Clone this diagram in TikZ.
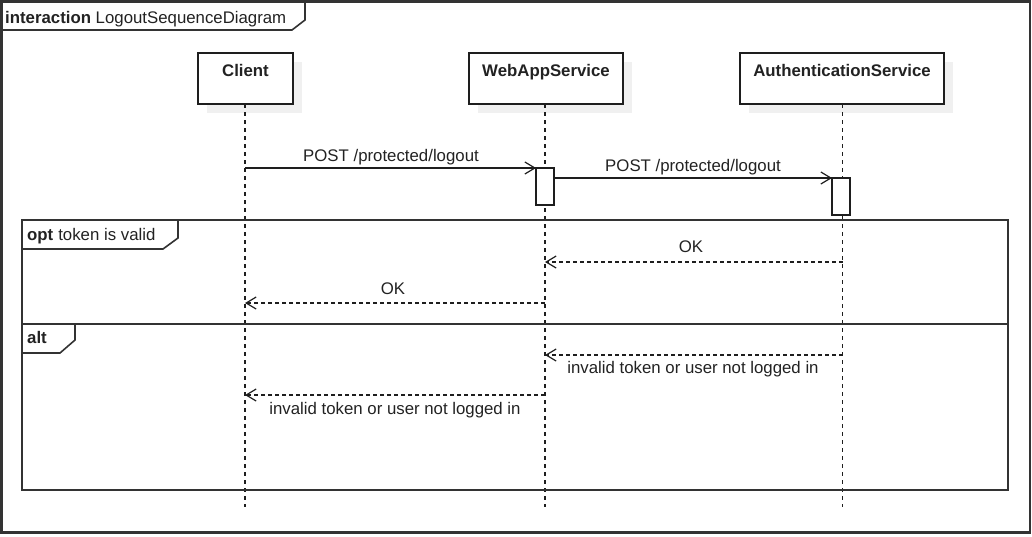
\documentclass[tikz,border=0pt]{standalone}
\usepackage{fontspec}
\setmainfont{Liberation Sans}
\usetikzlibrary{arrows.meta}
\definecolor{ln}{HTML}{1E1E1E}
\definecolor{fr}{HTML}{333333}
\definecolor{tx}{HTML}{222222}
\definecolor{shd}{HTML}{F0F0F0}
\begin{document}
\begin{tikzpicture}[x=1pt,y=-1pt,
  every node/.style={font=\fontsize{16.8}{20}\selectfont, text=tx, inner sep=0pt},
  headbox/.style={draw=ln, line width=1.4pt, fill=white, minimum height=51pt, outer sep=0pt},
  shadowbox/.style={fill=shd, minimum height=51pt, outer sep=0pt, inner sep=0pt},
  actbox/.style={draw=ln, line width=1.3pt, fill=white, minimum width=18pt, minimum height=37pt, outer sep=0pt},
  lifeline/.style={draw=ln, line width=1.2pt, dash pattern=on 4pt off 4pt},
  syncmsg/.style={draw=ln, line width=1.2pt, -{Straight Barb[length=10pt,width=12pt,line width=1.2pt]}},
  replymsg/.style={draw=ln, line width=1.2pt, dash pattern=on 4pt off 3pt, -{Straight Barb[length=10pt,width=12pt,line width=1.2pt]}},
  framebox/.style={draw=fr, line width=1.6pt},
  lbl/.style={anchor=base}
]
\useasboundingbox (0,0) rectangle (1032,536);
% outer frame
\draw[framebox, line width=2.2pt, draw=fr] (1.5,1.5) rectangle (1030,532.5);
\draw[framebox] (1.5,30) -- (292,30) -- (305,20) -- (305,1.5);
\node[anchor=base west] (title) at (5,23) {\textbf{interaction} LogoutSequenceDiagram};

% lifeline heads with shadows
\node[shadowbox, minimum width=95pt] (clientS) at (254.5,87.5) {};
\node[shadowbox, minimum width=154pt] (webS) at (555,87.5) {};
\node[shadowbox, minimum width=204pt] (authS) at (851,87.5) {};
\node[headbox, minimum width=95pt] (client) at (245.5,78.5) {};
\node[headbox, minimum width=154pt] (web) at (546,78.5) {};
\node[headbox, minimum width=204pt] (auth) at (842,78.5) {};
\node[lbl] (clientT) at (245.5,76.5) {\textbf{Client}};
\node[lbl] (webT) at (546,76.5) {\textbf{WebAppService}};
\node[lbl] (authT) at (842,76.5) {\textbf{AuthenticationService}};

% lifeline ends
\coordinate (clientE) at (245,507);
\coordinate (webE) at (545,507);
\coordinate (authE) at (842.5,507);
\draw[lifeline] (client.south -| clientE) -- (clientE);
\draw[lifeline] (web.south -| webE) -- (webE);
\draw[lifeline] (auth.south -| authE) -- (authE);

% activations
\node[actbox] (webAct) at (545,186.5) {};
\node[actbox] (authAct) at (841,196.5) {};

% frames
\draw[framebox] (22,220) rectangle (1008,490);
\draw[framebox] (22,324) -- (1008,324);
\draw[framebox] (22,249) -- (163,249) -- (178,238) -- (178,220);
\draw[framebox] (22,353) -- (60,353) -- (75,340) -- (75,324);
\node[anchor=base west] (optT) at (27,240) {\textbf{opt}\hspace{5pt}token is valid};
\node[anchor=base west] (altT) at (27,343) {\textbf{alt}};

% messages
\coordinate (m1s) at (245,168);
\draw[syncmsg] (m1s) -- (webAct.north west);
\node[lbl] (m1) at (391,161.5) {POST /protected/logout};
\draw[syncmsg] (webAct.east |- authAct.north) -- (authAct.north west);
\node[lbl] (m2) at (693,171.5) {POST /protected/logout};

\coordinate (r1s) at (842.5,262);
\coordinate (r1e) at (545,262);
\draw[replymsg] (r1s) -- (r1e);
\node[lbl] (r1) at (691,252.5) {OK};
\coordinate (r2s) at (545,303);
\coordinate (r2e) at (245,303);
\draw[replymsg] (r2s) -- (r2e);
\node[lbl] (r2) at (393,294.5) {OK};

\coordinate (r3s) at (842.5,355);
\coordinate (r3e) at (545,355);
\draw[replymsg] (r3s) -- (r3e);
\node[lbl] (r3) at (693,373.5) {invalid token or user not logged in};
\coordinate (r4s) at (545,395);
\coordinate (r4e) at (245,395);
\draw[replymsg] (r4s) -- (r4e);
\node[lbl] (r4) at (395,414) {invalid token or user not logged in};
\end{tikzpicture}
\end{document}
